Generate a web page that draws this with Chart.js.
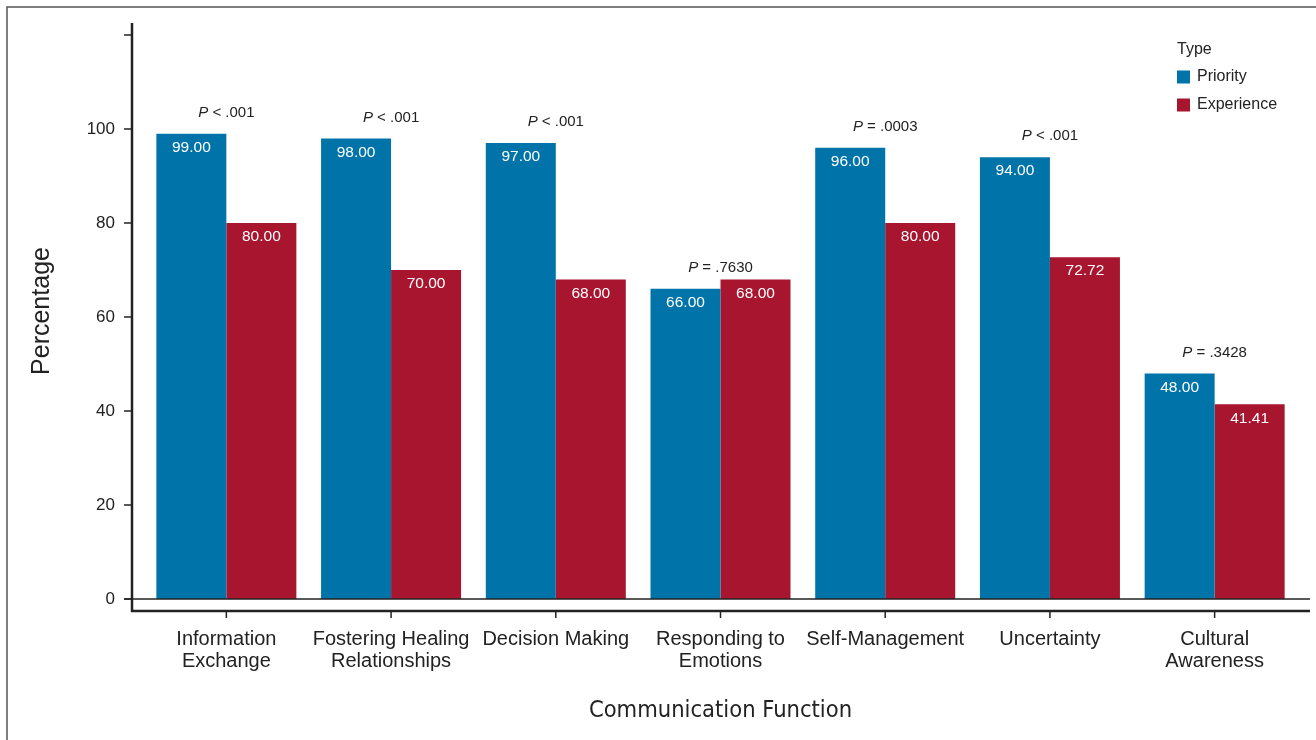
<!DOCTYPE html>
<html>
<head>
<meta charset="utf-8">
<script src="https://cdn.jsdelivr.net/npm/chart.js@4"></script>
<style>
  html, body { margin: 0; padding: 0; background: #fff; }
  #wrap { position: relative; width: 1316px; height: 740px; }
</style>
</head>
<body>
<div id="wrap"><canvas id="commChart" width="1316" height="740"></canvas></div>
<script>
// Chart data
const categories = [
    ['Information', 'Exchange'],
    ['Fostering Healing', 'Relationships'],
    ['Decision Making'],
    ['Responding to', 'Emotions'],
    ['Self-Management'],
    ['Uncertainty'],
    ['Cultural', 'Awareness']
];
const priorityValues = [99, 98, 97, 66, 96, 94, 48];
const experienceValues = [80, 70, 68, 68, 80, 72.72, 41.41];
const pLabels = [
    ['<', '.001'],
    ['<', '.001'],
    ['<', '.001'],
    ['=', '.7630'],
    ['=', '.0003'],
    ['<', '.001'],
    ['=', '.3428']
];
const yTicks = [0, 20, 40, 60, 80, 100, 120];

const BLUE = '#0074a9';
const RED = '#a8152e';
const INK = '#222222';
const FONT = "'Liberation Sans', Arial, sans-serif";

// Axes, frame, tick marks and zero line
const axesPlugin = {
    id: 'axesPlugin',
    beforeDatasetsDraw(chart) {
        const { ctx, chartArea, scales } = chart;
        const x = scales.x, y = scales.y;
        const axisX = chartArea.left - 12;
        const axisY = chartArea.bottom + 12;
        ctx.save();
        // outer frame
        ctx.strokeStyle = '#555';
        ctx.lineWidth = 1.5;
        ctx.beginPath();
        ctx.moveTo(7, chart.height);
        ctx.lineTo(7, 7);
        ctx.lineTo(chart.width, 7);
        ctx.stroke();

        ctx.strokeStyle = INK;
        // y tick marks
        ctx.lineWidth = 1.5;
        yTicks.forEach(v => {
            const py = y.getPixelForValue(v);
            ctx.beginPath();
            ctx.moveTo(axisX - 8, py);
            ctx.lineTo(axisX, py);
            ctx.stroke();
        });
        // x tick marks
        categories.forEach((c, i) => {
            const px = x.getPixelForValue(i);
            ctx.beginPath();
            ctx.moveTo(px, axisY);
            ctx.lineTo(px, axisY + 7);
            ctx.stroke();
        });
        // y axis line
        ctx.lineWidth = 2.5;
        ctx.beginPath();
        ctx.moveTo(axisX, chartArea.top);
        ctx.lineTo(axisX, axisY);
        ctx.lineTo(chartArea.right + 13, axisY);
        ctx.stroke();
        ctx.restore();
    },
    afterDatasetsDraw(chart) {
        const { ctx, chartArea, scales } = chart;
        const y = scales.y;
        ctx.save();
        // zero line over the bars
        ctx.strokeStyle = INK;
        ctx.lineWidth = 1.5;
        const zy = y.getPixelForValue(0);
        ctx.beginPath();
        ctx.moveTo(chartArea.left - 20, zy);
        ctx.lineTo(chartArea.right + 13, zy);
        ctx.stroke();
        ctx.restore();
    }
};

// Value labels inside bars + P values above groups
const labelsPlugin = {
    id: 'labelsPlugin',
    afterDatasetsDraw(chart) {
        const { ctx, scales } = chart;
        ctx.save();
        ctx.fillStyle = '#ffffff';
        ctx.font = '15.5px ' + FONT;
        ctx.textAlign = 'center';
        ctx.textBaseline = 'middle';
        chart.data.datasets.forEach((ds, di) => {
            chart.getDatasetMeta(di).data.forEach((bar, i) => {
                ctx.fillText(ds.data[i].toFixed(2), bar.x, bar.y + 14);
            });
        });

        ctx.fillStyle = INK;
        ctx.textAlign = 'left';
        pLabels.forEach((p, i) => {
            const cx = scales.x.getPixelForValue(i);
            const cy = scales.y.getPixelForValue(priorityValues[i]) - 21;
            const italic = 'italic 15px ' + FONT;
            const normal = '15px ' + FONT;
            const rest = ' ' + p[0] + ' ' + p[1];
            ctx.font = italic;
            const w1 = ctx.measureText('P').width;
            ctx.font = normal;
            const w2 = ctx.measureText(rest).width;
            let sx = cx - (w1 + w2) / 2;
            ctx.font = italic;
            ctx.fillText('P', sx, cy);
            ctx.font = normal;
            ctx.fillText(rest, sx + w1, cy);
        });
        ctx.restore();
    },
    afterDraw(chart) {
        // legend
        const { ctx } = chart;
        ctx.save();
        ctx.fillStyle = INK;
        ctx.font = '16px ' + FONT;
        ctx.textAlign = 'left';
        ctx.textBaseline = 'middle';
        ctx.fillText('Type', 1177, 50);
        chart.data.datasets.forEach((ds, i) => {
            const ry = 77 + i * 28;
            ctx.fillStyle = ds.backgroundColor;
            ctx.fillRect(1177, ry - 6.5, 13, 13);
            ctx.fillStyle = INK;
            ctx.fillText(ds.label, 1197, ry);
        });
        ctx.restore();
    }
};

new Chart(document.getElementById('commChart'), {
    type: 'bar',
    data: {
        labels: categories,
        datasets: [{
            label: 'Priority',
            data: priorityValues,
            backgroundColor: BLUE
        }, {
            label: 'Experience',
            data: experienceValues,
            backgroundColor: RED
        }]
    },
    options: {
        responsive: false,
        animation: false,
        devicePixelRatio: 1,
        layout: { padding: { left: 0, top: 23, right: 19, bottom: 0 } },
        datasets: {
            bar: { barPercentage: 1, categoryPercentage: 0.85 }
        },
        plugins: {
            legend: { display: false },
            tooltip: { enabled: false }
        },
        scales: {
            x: {
                grid: { display: false },
                border: { display: false },
                ticks: {
                    color: INK,
                    padding: 21,
                    maxRotation: 0,
                    autoSkip: false,
                    font: { family: FONT, size: 20, lineHeight: 1.1 }
                },
                title: {
                    display: true,
                    text: 'Communication Function',
                    color: INK,
                    padding: { top: 0, bottom: 15 },
                    font: { family: "'Liberation Sans Narrow', 'DejaVu Sans Condensed', " + FONT, size: 23.5 }
                },
                afterFit(scale) {
                    scale.height = 141;
                    scale.paddingLeft = 0;
                    scale.paddingRight = 0;
                }
            },
            y: {
                min: 0,
                max: 122.55,
                grid: { display: false },
                border: { display: false },
                afterBuildTicks(scale) {
                    scale.ticks = yTicks.map(v => ({ value: v }));
                },
                ticks: {
                    color: INK,
                    padding: 21,
                    font: { family: FONT, size: 17 },
                    callback: v => (v === 120 ? '' : v)
                },
                title: {
                    display: true,
                    text: 'Percentage',
                    color: INK,
                    padding: { top: 27, bottom: 0 },
                    font: { family: FONT, size: 25 }
                },
                afterFit(scale) {
                    scale.width = 144;
                    scale.paddingTop = 0;
                    scale.paddingBottom = 0;
                }
            }
        }
    },
    plugins: [axesPlugin, labelsPlugin]
});
</script>
</body>
</html>
